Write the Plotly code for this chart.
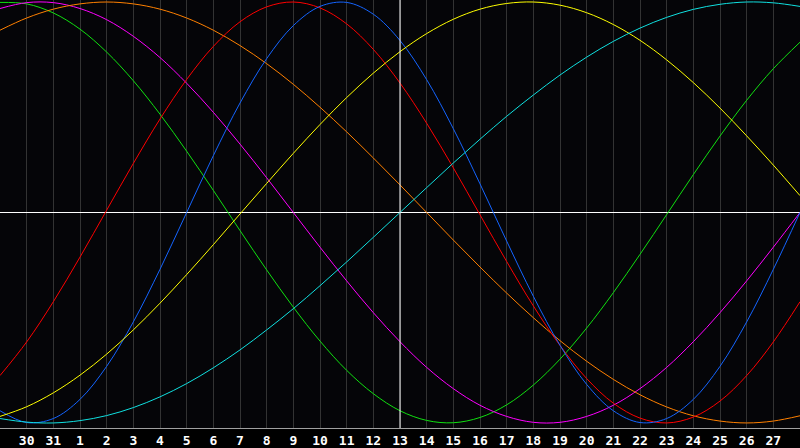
import plotly.graph_objects as go

# day labels along the bottom (day 29 of prev month .. 28 of this month)
days = ["29", "30", "31", "1", "2", "3", "4", "5", "6", "7", "8", "9", "10",
        "11", "12", "13", "14", "15", "16", "17", "18", "19", "20", "21",
        "22", "23", "24", "25", "26", "27", "28"]

# cycle values, one per day
physical = [-0.942, -0.998, -0.979, -0.888, -0.731, -0.520, -0.270, 0.000,
            0.270, 0.520, 0.731, 0.888, 0.979, 0.998, 0.942, 0.817, 0.631,
            0.398, 0.136, -0.136, -0.398, -0.631, -0.817, -0.942, -0.998,
            -0.979, -0.888, -0.731, -0.520, -0.270, 0.000]
emotional = [-0.775, -0.615, -0.424, -0.212, 0.011, 0.233, 0.444, 0.632,
             0.789, 0.906, 0.977, 1.000, 0.972, 0.896, 0.775, 0.615, 0.424,
             0.212, -0.011, -0.233, -0.444, -0.632, -0.789, -0.906, -0.977,
             -1.000, -0.972, -0.896, -0.775, -0.615, -0.424]
intellectual = [0.998, 0.991, 0.948, 0.871, 0.762, 0.626, 0.467, 0.291,
                0.105, -0.086, -0.273, -0.450, -0.611, -0.750, -0.861,
                -0.942, -0.988, -0.999, -0.974, -0.914, -0.820, -0.697,
                -0.549, -0.381, -0.199, -0.010, 0.180, 0.363, 0.533, 0.683,
                0.809]
intuitive = [0.969, 0.997, 0.997, 0.969, 0.916, 0.837, 0.736, 0.614, 0.476,
             0.325, 0.165, 0.000, -0.165, -0.325, -0.476, -0.614, -0.736,
             -0.837, -0.916, -0.969, -0.997, -0.997, -0.969, -0.916, -0.837,
             -0.736, -0.614, -0.476, -0.325, -0.165, 0.000]
aesthetic = [-0.969, -0.923, -0.857, -0.773, -0.673, -0.558, -0.431, -0.295,
             -0.153, -0.007, 0.138, 0.281, 0.418, 0.546, 0.662, 0.764, 0.850,
             0.918, 0.966, 0.993, 1.000, 0.985, 0.949, 0.893, 0.818, 0.725,
             0.617, 0.496, 0.364, 0.225, 0.080]
awareness = [0.866, 0.924, 0.966, 0.991, 1.000, 0.991, 0.966, 0.924, 0.866,
             0.793, 0.707, 0.609, 0.500, 0.383, 0.259, 0.131, 0.000, -0.131,
             -0.259, -0.383, -0.500, -0.609, -0.707, -0.793, -0.866, -0.924,
             -0.966, -0.991, -1.000, -0.991, -0.966]
spiritual = [-0.979, -0.996, -1.000, -0.989, -0.965, -0.927, -0.876, -0.813,
             -0.738, -0.653, -0.558, -0.457, -0.348, -0.235, -0.118, 0.000,
             0.118, 0.235, 0.348, 0.457, 0.558, 0.653, 0.738, 0.813, 0.876,
             0.927, 0.965, 0.989, 1.000, 0.996, 0.979]

series = [
    (intellectual, "#10e010"),
    (intuitive, "#ff00ff"),
    (awareness, "#ff8000"),
    (emotional, "#ff0000"),
    (physical, "#1464ff"),
    (aesthetic, "#ffff00"),
    (spiritual, "#10e0e0"),
]

x = list(range(len(days)))

fig = go.Figure()
for vals, col in series:
    fig.add_trace(go.Scatter(x=x, y=vals, mode="lines",
                             line=dict(color=col, width=1, shape="spline"),
                             hoverinfo="skip", showlegend=False))

# today marker
fig.add_vline(x=15, line_color="white", line_width=1)

fig.update_xaxes(range=[0, 30], tickvals=x[1:-1], ticktext=days[1:-1],
                 showgrid=True, gridcolor="#333333", gridwidth=1,
                 zeroline=False, showline=True, mirror=True,
                 linecolor="#a0a0a0", linewidth=1, ticks="",
                 tickfont=dict(family="DejaVu Sans Mono", size=13,
                               color="white", weight="bold"))
fig.update_yaxes(range=[-1.024, 1.0095], showticklabels=False,
                 showgrid=False, zeroline=True, zerolinecolor="white",
                 zerolinewidth=1, showline=True, linecolor="#a0a0a0",
                 linewidth=1)

fig.update_layout(width=800, height=448,
                  margin=dict(l=0, r=0, t=0, b=20),
                  paper_bgcolor="#000000", plot_bgcolor="#050508")

# page body has a default 8px margin; drop it so the chart fills the window
fig.write_html("out.html", config={"displayModeBar": False},
               post_script="document.body.style.margin='0';")
